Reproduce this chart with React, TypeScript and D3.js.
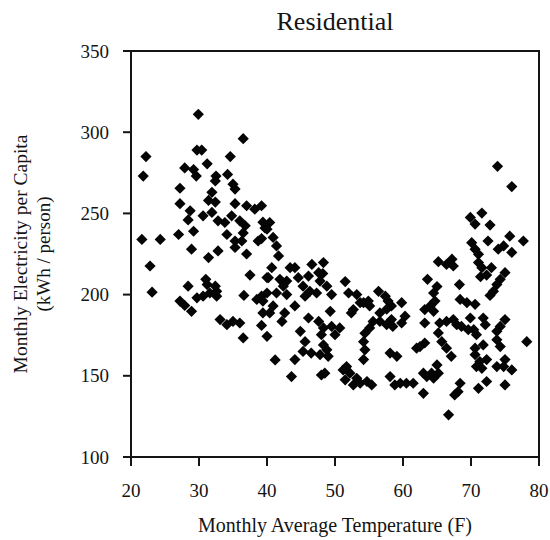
import React from "react";
import * as d3 from "d3";

const temperature = [
  22.2, 21.8, 29.9, 36.5, 29.7, 30.4, 34.6, 31.2, 27.9, 29.2, 29.6, 32.5, 34.2, 35.0, 35.3, 27.2, 32.4, 31.9, 31.4, 32.4,
  27.2, 28.7, 28.4, 30.6, 31.9, 32.8, 33.8, 34.8, 36.0, 35.3, 37.0, 38.2, 39.2, 34.1, 35.3, 36.3, 37.0, 35.3, 38.7, 39.7,
  36.8, 36.5, 27.0, 29.2, 28.9, 31.4, 32.8, 21.6, 24.3, 39.2, 22.8, 37.5, 23.1, 28.4, 31.0, 31.2, 32.4, 32.6, 31.6, 30.6,
  29.7, 32.6, 27.2, 27.9, 28.9, 36.6, 38.5, 39.2, 40.0, 33.1, 34.1, 35.0, 36.0, 39.2, 36.5, 40.0, 39.4, 39.4, 40.0,
  40.4, 40.0, 40.9, 41.4, 41.7, 40.7, 43.4, 44.1, 46.6, 48.3, 47.6, 40.2, 41.9, 42.9, 44.6, 42.4, 42.9, 41.4, 39.4, 40.9,
  40.4, 44.1, 48.2, 47.8, 46.1, 45.3, 46.3, 47.3, 48.8, 49.5, 45.6, 51.5, 42.6, 42.2, 49.3, 46.1, 47.6, 48.3, 49.5, 50.7,
  50.0, 48.0, 44.9, 45.6, 45.3, 46.5, 48.3, 48.8, 49.0, 47.8, 44.1, 41.2, 43.6, 48.0, 48.5, 52.0, 53.2, 53.7, 52.7, 52.4,
  54.2, 54.9, 55.1, 56.4, 57.4, 57.8, 58.3, 57.6, 56.6, 55.6, 56.6, 57.6, 58.5, 55.1, 54.4, 54.2, 54.4, 54.2, 51.7, 51.2,
  52.2, 53.2, 51.5, 52.7, 53.7, 54.7, 55.4, 58.1, 58.1, 58.8, 59.1,
  73.9, 76.0, 69.9, 70.6, 71.6, 72.8, 72.5, 70.1, 70.6, 71.1, 74.0, 74.8, 75.7, 77.7, 76.0, 65.2, 67.2, 67.4, 71.1, 71.6,
  73.0, 66.4, 75.0, 74.3, 73.8, 73.3, 72.8, 71.4, 72.3, 63.6, 68.3, 65.0, 64.5, 64.7, 64.0, 63.2, 64.5, 68.4, 69.4, 70.6,
  59.8, 60.3, 59.8, 58.3, 63.2, 65.4, 66.4, 67.4, 67.9, 68.6, 69.9, 69.6, 70.4, 70.8, 71.8, 72.1, 75.0, 74.3, 73.8, 73.8,
  74.3, 78.2, 65.2, 65.7, 66.4, 67.1, 63.2, 62.5, 62.0, 70.6, 70.6, 71.3, 72.3, 70.8, 71.6, 75.0, 73.8, 74.8, 76.0, 65.0,
  64.2, 65.2, 64.5, 63.5, 63.0, 59.6, 60.5, 61.5, 63.0, 68.4, 67.6, 68.1, 71.1, 72.3, 75.0, 66.7, 71.8,
];

const electricity = [
  285, 273, 311, 296, 289, 289, 285, 280.5, 278, 277, 273, 273, 274, 268, 265, 265.5, 270, 263, 258, 257,
  256, 251.6, 246, 248.5, 250.6, 245.4, 244.4, 248.5, 245.4, 256, 254.7, 252.6, 254.7, 237, 233, 233, 225, 229, 233, 241,
  242.4, 238, 237, 239, 228, 222.8, 226.9, 234, 234, 234.5, 217.6, 212, 201.5, 205.2, 209.4, 206.2, 205.2, 202, 201, 199,
  198, 199, 196, 193.3, 189.7, 199.5, 197, 199, 201, 184.6, 181.5, 183.5, 182.5, 181, 173.3, 174.3, 188.7, 244.6, 210.5,
  244.4, 240.3, 235.2, 230, 223.8, 216.6, 216.6, 216.6, 218.6, 219.7, 213.5, 210.4, 209.4, 208.3, 210.4, 205.2, 200, 201, 196, 193,
  188.7, 193, 213, 208.3, 211.4, 205.2, 202, 201, 205.2, 200, 199, 208, 188.7, 183.5, 189.7, 185.6, 183.5, 179.5, 180.4, 179.5,
  175.3, 175.3, 177.4, 171, 165, 164, 169, 166, 162, 163, 160, 159.8, 149.5, 150.5, 151.6, 201, 200, 195, 190.8, 188.7,
  195, 196, 193, 202, 199, 196, 193, 191, 188.7, 183.5, 183.5, 181.5, 180.4, 179.5, 176.2, 171, 166, 160, 155.7, 153.6,
  151.6, 148.5, 147.5, 144.4, 145.4, 146.5, 144.4, 164, 149.5, 144.4, 162,
  279, 266.5, 247.5, 243.4, 250.2, 242.8, 233, 232, 228, 224.8, 228, 230, 236, 233, 226, 220.3, 221.8, 217.6, 219.7, 216.6,
  216.6, 218.6, 213.5, 209.4, 206.2, 202, 199.5, 211, 212, 209.4, 206.2, 205, 201, 196, 193, 190.8, 189.7, 197, 195, 194,
  195, 186.7, 182.5, 184.6, 182.5, 182.5, 183.5, 184.6, 181.5, 180.4, 185.6, 178.4, 178.4, 175.3, 185.6, 181.5, 184.6, 180.4, 177.4, 172.2,
  168, 171, 176.4, 171, 167, 162, 170.2, 168, 167, 167, 163, 158.8, 160, 155.7, 154.6, 160, 155.7, 155.7, 153.6, 156.7,
  151.6, 151.6, 148.5, 149.5, 151.6, 145.4, 145.4, 145.4, 139.2, 145.4, 138.2, 140.2, 142.3, 146.5, 144.4, 126, 169,
];

const xTicks = [20, 30, 40, 50, 60, 70, 80];
const yTicks = [100, 150, 200, 250, 300, 350];
const titleText = "Residential";
const xLabel = "Monthly Average Temperature (F)";
const yLabelLine1 = "Monthly Electricity per Capita";
const yLabelLine2 = "(kWh / person)";

export default function App() {
  const W = 550;
  const H = 540;
  const left = 131, right = 539, top = 51, bottom = 457;
  const x = d3.scaleLinear().domain([20, 80]).range([left, right]);
  const y = d3.scaleLinear().domain([100, 350]).range([bottom, top]);
  const font = "'Liberation Serif', 'Times New Roman', serif";
  const diamond = "M0,-5.6L5.6,0L0,5.6L-5.6,0Z";
  const points = temperature.map((t, i) => ({ t, e: electricity[i] }));
  const ink = "#141414";

  return (
    <svg
      width={W}
      height={H}
      viewBox={`0 0 ${W} ${H}`}
      style={{ position: "absolute", left: 0, top: 0, background: "#fff" }}
    >
      <rect x={0} y={0} width={W} height={H} fill="#fff" />
      <text x={(left + right) / 2} y={30} textAnchor="middle" fontFamily={font} fontSize={26} fill={ink}>
        {titleText}
      </text>

      {points.map((p, i) => (
        <path key={i} d={diamond} transform={`translate(${x(p.t)},${y(p.e)})`} fill="#050505" />
      ))}

      <rect x={left} y={top} width={right - left} height={bottom - top} fill="none" stroke={ink} strokeWidth={2} />

      {yTicks.map((v) => (
        <g key={`y${v}`}>
          <line x1={left - 8} x2={left} y1={y(v)} y2={y(v)} stroke={ink} strokeWidth={2} />
          <text x={left - 22} y={y(v)} dy="0.35em" textAnchor="end" fontFamily={font} fontSize={19} fill={ink}>
            {v}
          </text>
        </g>
      ))}

      {xTicks.map((v) => (
        <g key={`x${v}`}>
          <line x1={x(v)} x2={x(v)} y1={bottom} y2={bottom + 9} stroke={ink} strokeWidth={2} />
          <text x={x(v)} y={497} textAnchor="middle" fontFamily={font} fontSize={19} fill={ink}>
            {v}
          </text>
        </g>
      ))}

      <text x={(left + right) / 2} y={532} textAnchor="middle" fontFamily={font} fontSize={20} fill={ink}>
        {xLabel}
      </text>

      <text
        transform={`translate(27,${(top + bottom) / 2}) rotate(-90)`}
        textAnchor="middle"
        fontFamily={font}
        fontSize={19.5}
        fill={ink}
      >
        {yLabelLine1}
      </text>
      <text
        transform={`translate(50,${(top + bottom) / 2}) rotate(-90)`}
        textAnchor="middle"
        fontFamily={font}
        fontSize={19}
        fill={ink}
      >
        {yLabelLine2}
      </text>
    </svg>
  );
}
